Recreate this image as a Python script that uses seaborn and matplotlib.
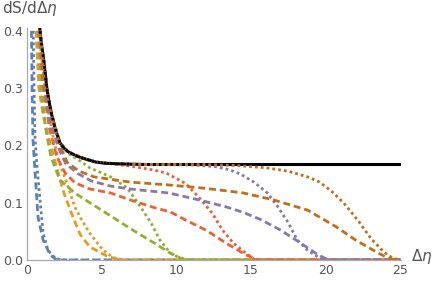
import seaborn as sns
import matplotlib.pyplot as plt
import numpy as np
import pandas as pd

# values
black_x = [0.80, 0.87, 0.95, 1.1, 1.2, 1.32, 1.45, 1.66, 1.9, 2.2, 2.45, 2.75, 3.2, 3.7, 4.6, 5.2, 6.0, 7.0, 8.0, 25.0]
black_y = [0.43, 0.40, 0.38, 0.353, 0.33, 0.302, 0.28, 0.253, 0.228, 0.205, 0.196, 0.189, 0.183, 0.178, 0.171, 0.169, 0.168, 0.1672, 0.1667, 0.1667]

blue_dot_x = [0.42, 0.47, 0.54, 0.67, 0.87, 1.08, 1.4, 1.9, 2.3, 25.0]
blue_dot_y = [0.40, 0.30, 0.21, 0.163, 0.105, 0.047, 0.017, 0.003, 0.0, 0.0]
blue_dash_x = [0.30, 0.34, 0.40, 0.54, 0.74, 1.08, 1.55, 2.0, 25.0]
blue_dash_y = [0.40, 0.30, 0.21, 0.152, 0.075, 0.035, 0.009, 0.0, 0.0]

orange_dot_x = [0.82, 1.0, 1.25, 1.5, 1.75, 2.1, 2.75, 3.2, 3.7, 4.2, 5.1, 5.8, 6.5, 25.0]
orange_dot_y = [0.40, 0.345, 0.29, 0.25, 0.215, 0.175, 0.128, 0.093, 0.068, 0.047, 0.017, 0.004, 0.0, 0.0]
orange_dash_x = [0.6, 0.8, 1.1, 1.55, 2.0, 2.5, 3.0, 3.55, 4.2, 5.4, 6.3, 25.0]
orange_dash_y = [0.40, 0.30, 0.25, 0.204, 0.16, 0.115, 0.08, 0.045, 0.023, 0.006, 0.0, 0.0]

green_dot_x = [0.85, 1.1, 1.32, 1.66, 2.2, 2.75, 3.2, 3.6, 4.2, 5.0, 5.6, 6.7, 7.6, 8.3, 8.9, 9.6, 10.2, 10.75, 25.0]
green_dot_y = [0.40, 0.353, 0.30, 0.25, 0.203, 0.186, 0.179, 0.172, 0.161, 0.152, 0.145, 0.126, 0.093, 0.065, 0.035, 0.012, 0.004, 0.0, 0.0]
green_dash_x = [0.75, 0.95, 1.25, 1.6, 2.2, 3.2, 4.2, 5.6, 7.1, 8.5, 9.6, 10.3, 10.95, 25.0]
green_dash_y = [0.40, 0.30, 0.23, 0.18, 0.14, 0.117, 0.10, 0.077, 0.052, 0.03, 0.012, 0.003, 0.0, 0.0]

red_dot_x = [0.87, 1.1, 1.32, 1.66, 2.2, 2.75, 3.7, 4.6, 6.0, 6.9, 8.5, 9.3, 10.6, 11.5, 12.4, 13.1, 13.8, 14.65, 15.3, 25.0]
red_dot_y = [0.40, 0.353, 0.302, 0.253, 0.205, 0.189, 0.178, 0.171, 0.167, 0.164, 0.157, 0.152, 0.134, 0.11, 0.082, 0.052, 0.03, 0.012, 0.0, 0.0]
red_dash_x = [0.8, 1.1, 1.5, 2.0, 2.55, 3.2, 4.2, 5.6, 6.9, 8.7, 9.6, 10.6, 12.0, 13.3, 14.65, 15.5, 25.0]
red_dash_y = [0.40, 0.30, 0.23, 0.18, 0.152, 0.135, 0.124, 0.117, 0.105, 0.09, 0.084, 0.07, 0.052, 0.03, 0.009, 0.0, 0.0]

purple_dot_x = [0.87, 1.1, 1.32, 1.66, 2.2, 2.75, 3.7, 4.6, 6.0, 8.0, 11.0, 12.6, 13.5, 14.3, 15.2, 16.1, 16.8, 17.5, 18.1, 18.8, 19.5, 20.1, 25.0]
purple_dot_y = [0.40, 0.353, 0.302, 0.253, 0.205, 0.189, 0.178, 0.171, 0.168, 0.1667, 0.166, 0.163, 0.158, 0.15, 0.136, 0.117, 0.093, 0.065, 0.035, 0.017, 0.005, 0.0, 0.0]
purple_dash_x = [0.85, 1.15, 1.6, 2.2, 2.6, 3.4, 4.3, 5.6, 6.9, 9.5, 11.5, 13.3, 14.5, 15.7, 17.0, 18.3, 19.5, 20.2, 25.0]
purple_dash_y = [0.40, 0.30, 0.235, 0.19, 0.168, 0.151, 0.138, 0.129, 0.124, 0.117, 0.105, 0.093, 0.083, 0.07, 0.052, 0.03, 0.009, 0.0, 0.0]

dorange_dot_x = [0.87, 1.1, 1.32, 1.66, 2.2, 2.75, 3.7, 4.6, 6.0, 8.0, 12.0, 14.0, 16.0, 17.5, 18.8, 19.6, 20.4, 21.2, 22.2, 23.05, 23.9, 24.5, 25.0]
dorange_dot_y = [0.40, 0.353, 0.302, 0.253, 0.205, 0.189, 0.178, 0.171, 0.168, 0.1667, 0.1665, 0.165, 0.161, 0.155, 0.145, 0.136, 0.12, 0.10, 0.068, 0.037, 0.014, 0.003, 0.0]
dorange_dash_x = [0.87, 1.2, 1.66, 2.2, 2.7, 3.5, 4.5, 6.9, 9.5, 12.0, 14.5, 16.5, 18.8, 20.7, 22.0, 23.4, 24.2, 24.7, 25.0]
dorange_dash_y = [0.40, 0.30, 0.25, 0.20, 0.17, 0.155, 0.145, 0.136, 0.131, 0.125, 0.117, 0.105, 0.087, 0.058, 0.035, 0.014, 0.003, 0.0, 0.0]

curves = [
    (blue_dot_x, blue_dot_y, '#5E81B5', 'dot'),
    (blue_dash_x, blue_dash_y, '#5E81B5', 'dash'),
    (orange_dot_x, orange_dot_y, '#E19C24', 'dot'),
    (orange_dash_x, orange_dash_y, '#E19C24', 'dash'),
    (green_dot_x, green_dot_y, '#8FB032', 'dot'),
    (green_dash_x, green_dash_y, '#8FB032', 'dash'),
    (red_dot_x, red_dot_y, '#EB6235', 'dot'),
    (red_dash_x, red_dash_y, '#EB6235', 'dash'),
    (purple_dot_x, purple_dot_y, '#8778B3', 'dot'),
    (purple_dash_x, purple_dash_y, '#8778B3', 'dash'),
    (dorange_dot_x, dorange_dot_y, '#C56E1A', 'dot'),
    (dorange_dash_x, dorange_dash_y, '#C56E1A', 'dash'),
]

sns.set_theme(style='white')
plt.rcParams['font.family'] = ['DejaVu Sans']

fig = plt.figure(figsize=(4.36, 2.88), dpi=100)
ax = fig.add_axes([27/436, 28/288, 374/436, 232/288])

# black limit curve
sns.lineplot(x=black_x, y=black_y, color='black', linewidth=2.2, estimator=None, ax=ax)

for xs, ys, col, st in curves:
    if st == 'dot':
        sns.lineplot(x=xs, y=ys, color=col, linewidth=2.0, estimator=None, ax=ax,
                     linestyle=(0, (1.0, 1.1)), dash_capstyle='butt')
    else:
        sns.lineplot(x=xs, y=ys, color=col, linewidth=2.0, estimator=None, ax=ax,
                     linestyle=(0, (2.5, 1.4)), dash_capstyle='butt')

# black dotted on top near the start
bd = [i for i, v in enumerate(black_x) if v <= 7.0]
sns.lineplot(x=[black_x[i] for i in bd], y=[black_y[i] for i in bd], color='black',
             linewidth=2.0, estimator=None, ax=ax, linestyle=(0, (1.0, 1.1)),
             dash_capstyle='butt')

ax.set_xlim(0, 25.05)
ax.set_ylim(0, 0.405)
ax.set_xticks([0, 5, 10, 15, 20, 25])
ax.set_xticks(np.arange(0, 26, 1), minor=True)
ax.set_yticks([0.0, 0.1, 0.2, 0.3, 0.4])
ax.set_yticks(np.arange(0, 0.401, 0.02), minor=True)
ax.set_yticklabels(['0.0', '0.1', '0.2', '0.3', '0.4'])
ax.tick_params(which='both', direction='in', colors='#aaaaaa', labelcolor='#555555',
               labelsize=9, pad=3)
ax.tick_params(which='major', length=4, width=0.8)
ax.tick_params(which='minor', length=2.2, width=0.6)
for s in ['top', 'right']:
    ax.spines[s].set_visible(False)
for s in ['left', 'bottom']:
    ax.spines[s].set_color('#aaaaaa')
    ax.spines[s].set_linewidth(0.9)
ax.set_xlabel('')
ax.set_ylabel('')
ax.grid(False)

fig.text(2/436, 1 - 9/288, r'dS/dΔ$\eta$', fontsize=11, color='#555555', va='center', ha='left')
fig.text(411/436, 1 - 257/288, r'Δ$\eta$', fontsize=11, color='#555555', va='center', ha='left')

fig.savefig('out.png', dpi=100)
